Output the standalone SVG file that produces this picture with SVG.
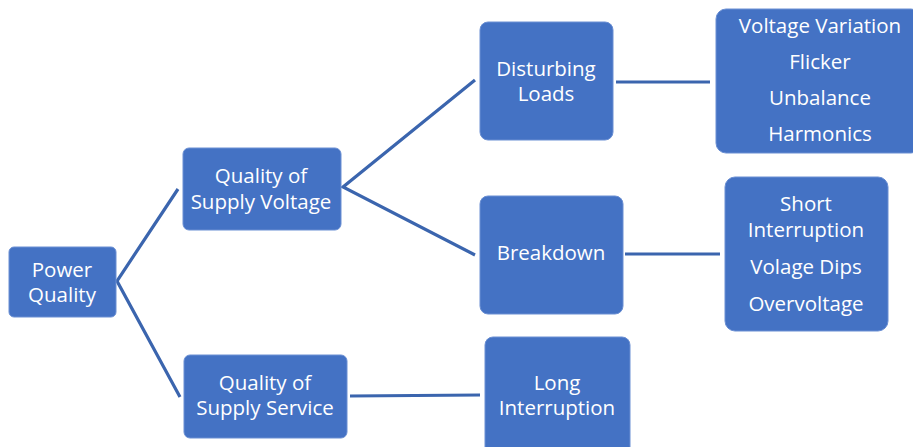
<svg xmlns="http://www.w3.org/2000/svg" width="913" height="447" viewBox="0 0 913 447">
  <style>
    .box { fill: #4472C4; stroke: #6A8FD3; stroke-width: 1; }
    .lbl { fill: #FFFFFF; font-family: "Open Sans", "Liberation Sans", sans-serif; font-size: 20.5px; text-anchor: middle; }
    .link { stroke: #3B65AE; stroke-width: 3.2; fill: none; }
  </style>
  <rect width="913" height="447" fill="#FFFFFF"/>

  <g id="connectors">
    <polyline class="link" points="178,189 117,281 180,397"/>
    <polyline class="link" points="475,80 343,187 475,255"/>
    <line class="link" x1="616" y1="82" x2="710" y2="82"/>
    <line class="link" x1="625" y1="254" x2="720" y2="254"/>
    <line class="link" x1="350" y1="396" x2="480" y2="395"/>
  </g>

  <g id="power-quality">
    <rect class="box" x="9" y="247" width="107" height="70" rx="5"/>
    <text class="lbl" x="62" y="277">Power</text>
    <text class="lbl" x="62" y="302">Quality</text>
  </g>

  <g id="supply-voltage">
    <rect class="box" x="183" y="148" width="158" height="82" rx="6"/>
    <text class="lbl" x="261" y="183">Quality of</text>
    <text class="lbl" x="261" y="209">Supply Voltage</text>
  </g>

  <g id="supply-service">
    <rect class="box" x="184" y="355" width="163" height="83" rx="6"/>
    <text class="lbl" x="265" y="390">Quality of</text>
    <text class="lbl" x="265" y="415">Supply Service</text>
  </g>

  <g id="disturbing-loads">
    <rect class="box" x="480" y="22" width="133" height="118" rx="8"/>
    <text class="lbl" x="546" y="76">Disturbing</text>
    <text class="lbl" x="546" y="101">Loads</text>
  </g>

  <g id="breakdown">
    <rect class="box" x="480" y="196" width="143" height="118" rx="8"/>
    <text class="lbl" x="551" y="260">Breakdown</text>
  </g>

  <g id="long-interruption">
    <rect class="box" x="485" y="337" width="145" height="120" rx="8"/>
    <text class="lbl" x="557" y="390">Long</text>
    <text class="lbl" x="557" y="415">Interruption</text>
  </g>

  <g id="load-effects">
    <rect class="box" x="716" y="9" width="205" height="144" rx="10"/>
    <text class="lbl" x="820" y="33">Voltage Variation</text>
    <text class="lbl" x="820" y="69">Flicker</text>
    <text class="lbl" x="820" y="105">Unbalance</text>
    <text class="lbl" x="820" y="141">Harmonics</text>
  </g>

  <g id="breakdown-effects">
    <rect class="box" x="725" y="177" width="163" height="154" rx="10"/>
    <text class="lbl" x="806" y="211">Short</text>
    <text class="lbl" x="806" y="237">Interruption</text>
    <text class="lbl" x="806" y="274">Volage Dips</text>
    <text class="lbl" x="806" y="311">Overvoltage</text>
  </g>
</svg>
